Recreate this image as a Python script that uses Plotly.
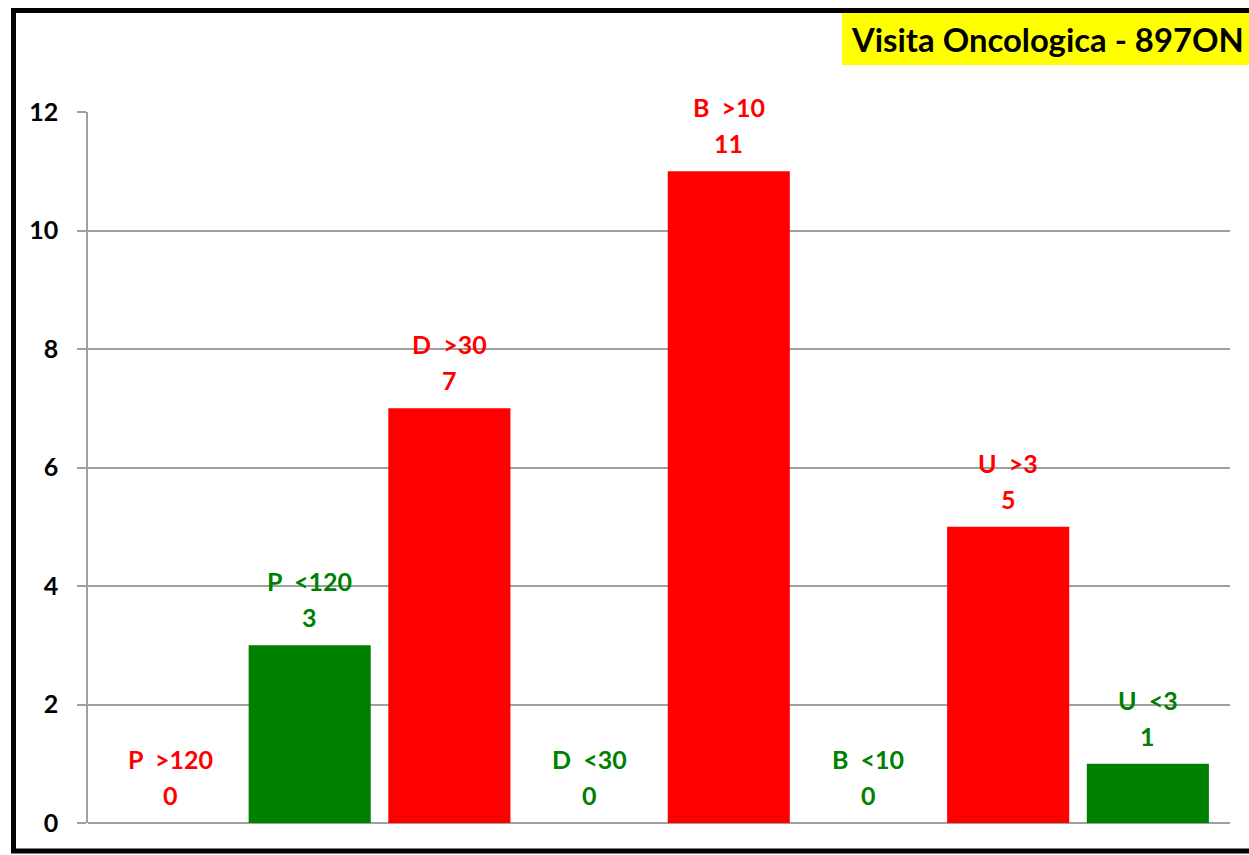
import plotly.graph_objects as go

categories = ["P  >120", "P  <120", "D  >30", "D  <30", "B  >10", "B  <10", "U  >3", "U  <3"]
values = [0, 3, 7, 0, 11, 0, 5, 1]
bar_colors = ["#FF0000", "#008000", "#FF0000", "#008000", "#FF0000", "#008000", "#FF0000", "#008000"]
y_ticks = [0, 2, 4, 6, 8, 10, 12]
title_text = "Visita Oncologica - 897ON"

W, H = 1249, 855
L, R, T, B = 88, 1230, 112, 823

def px_x(p):
    return (p - L) / (R - L)

def px_y(p):
    return (B - p) / (B - T)

fig = go.Figure()
fig.add_trace(go.Bar(
    x=categories, y=values,
    marker=dict(color=bar_colors, line=dict(width=0)),
    width=0.874,
    hoverinfo="x+y",
))

font_lbl = dict(family="Lato", size=25, weight="bold")
annotations = []
for c, v, col in zip(categories, values, bar_colors):
    annotations.append(dict(x=c, y=v, xref="x", yref="y", text=c, showarrow=False,
                            yanchor="middle", yshift=64, font=dict(color=col, **font_lbl)))
    annotations.append(dict(x=c, y=v, xref="x", yref="y", text=str(v), showarrow=False,
                            yanchor="middle", yshift=28, font=dict(color=col, **font_lbl)))

# title
annotations.append(dict(x=px_x(849), y=px_y(39), xref="paper", yref="paper", text=title_text,
                        showarrow=False, xanchor="left", yanchor="middle",
                        font=dict(family="Lato", size=32.8, weight="bold", color="black")))

shapes = [
    dict(type="rect", xref="paper", yref="paper",
         x0=px_x(842), x1=px_x(1262), y0=px_y(65), y1=px_y(13),
         fillcolor="#FFFF00", line=dict(width=0), layer="below"),
    dict(type="rect", xref="paper", yref="paper",
         x0=px_x(13.5), x1=px_x(1265), y0=px_y(851), y1=px_y(10.5),
         fillcolor="rgba(0,0,0,0)", line=dict(color="black", width=5)),
]

fig.update_layout(
    width=W, height=H,
    margin=dict(l=L, r=W - R, t=T, b=H - B, pad=0),
    paper_bgcolor="white", plot_bgcolor="white",
    showlegend=False,
    annotations=annotations,
    shapes=shapes,
    xaxis=dict(type="category", range=[-0.587, 7.588], showticklabels=False, ticks="",
               showgrid=False, showline=False, zeroline=False, fixedrange=True),
    yaxis=dict(range=[0, 12], tickvals=y_ticks, ticks="outside", ticklen=9, tickwidth=1.5,
               tickcolor="#a0a0a0", showline=True, linecolor="#a0a0a0", linewidth=1.5,
               showgrid=True, gridcolor="#a0a0a0", gridwidth=1.5, zeroline=True,
               zerolinecolor="#a0a0a0", zerolinewidth=1.5, ticklabelstandoff=14,
               tickfont=dict(family="Lato", size=25, weight="bold", color="black")),
)

fig.write_html("out.html", config={"displayModeBar": False},
               post_script="document.body.style.margin='0';document.body.style.overflow='hidden';")
